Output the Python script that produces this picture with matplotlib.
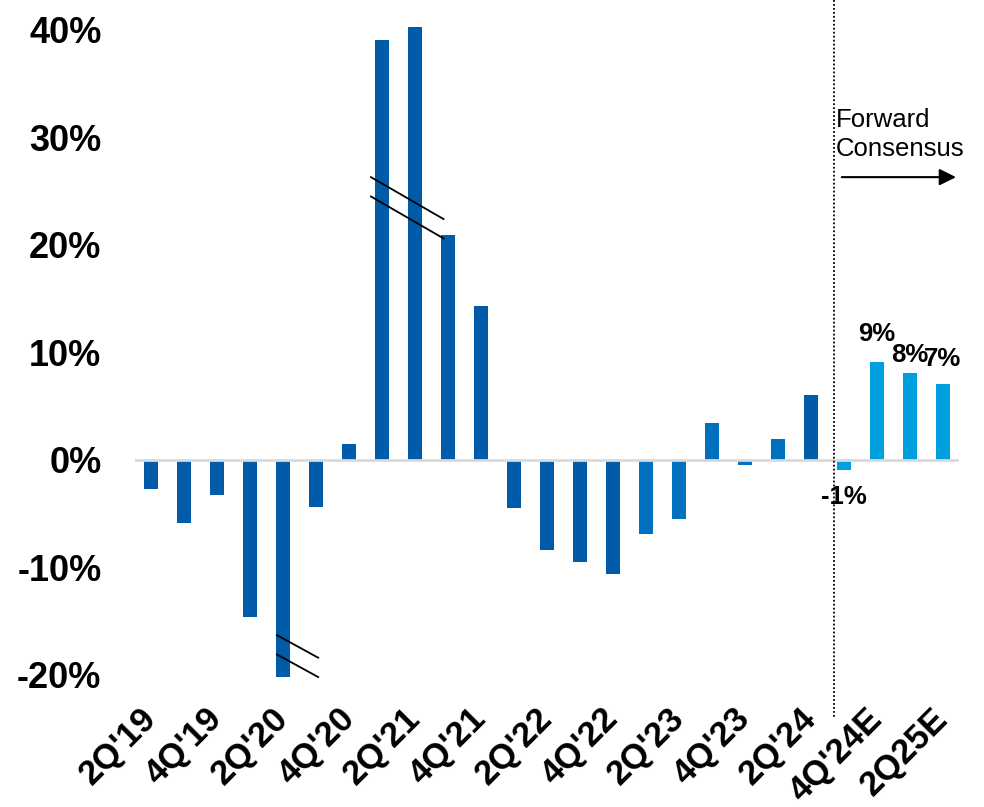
import numpy as np
import matplotlib.pyplot as plt

plt.rcParams['font.family'] = ['Liberation Sans', 'DejaVu Sans']

# quarterly y/y growth, 2Q19 .. 2Q25E (last four are consensus estimates)
quarters = ["2Q'19", "3Q'19", "4Q'19", "1Q'20", "2Q'20", "3Q'20", "4Q'20",
            "1Q'21", "2Q'21", "3Q'21", "4Q'21", "1Q'22", "2Q'22", "3Q'22",
            "4Q'22", "1Q'23", "2Q'23", "3Q'23", "4Q'23", "1Q'24", "2Q'24",
            "3Q'24E", "4Q'24E", "1Q25E", "2Q25E"]
growth = [-2.7, -5.9, -3.3, -14.6, -20.2, -4.4, 1.5,
          39.1, 40.3, 20.9, 14.3, -4.5, -8.4, -9.5,
          -10.6, -6.9, -5.5, 3.4, -0.5, 1.9, 6.0,
          -0.9, 9.1, 8.1, 7.1]
# 0 = reported, 1 = recent reported, 2 = forward consensus
group = [0, 0, 0, 0, 0, 0, 0,
         0, 0, 0, 0, 0, 0, 0,
         0, 1, 1, 1, 1, 1, 0,
         2, 2, 2, 2]
shown_labels = {21: "-1%", 22: "9%", 23: "8%", 24: "7%"}
label_offset = {21: -27, 22: 20, 23: 13, 24: 18}

colors = ['#005BA8', '#0070C0', '#00A0E0']

fig = plt.figure(figsize=(9.84, 8.07), dpi=100)
ax = fig.add_axes([0.137, 0.157, 0.838, 0.826])

x = np.arange(len(quarters))
ax.bar(x, growth, width=0.42, color=[colors[g] for g in group], zorder=2)
ax.axhline(0, color='#d9d9d9', lw=2, zorder=3)

ax.set_xlim(-0.5, 24.5)
ax.set_ylim(-20.5, 41.5)

ax.set_xticks(x[::2])
ax.set_xticklabels(quarters[::2], rotation=45, ha='right', va='center',
                   rotation_mode='anchor', fontsize=25, fontweight='bold')
yt = [-20, -10, 0, 10, 20, 30, 40]
ax.set_yticks(yt)
ax.set_yticklabels([f"{v}%" for v in yt], fontsize=26, fontweight='bold')
ax.tick_params(axis='both', length=0)
ax.tick_params(axis='x', pad=24)
ax.tick_params(axis='y', pad=24)
for s in ax.spines.values():
    s.set_visible(False)

# data labels on the forecast bars
for i, txt in shown_labels.items():
    ax.annotate(txt, (x[i], growth[i] if growth[i] > 0 else 0),
                xytext=(0, label_offset[i]), textcoords='offset points',
                ha='center', va='center', fontsize=18.5, fontweight='bold')

# axis-break marks
for dy in (0, -1.8):
    ax.plot([3.81, 5.06], [-16.3 + dy, -18.4 + dy], color='black', lw=1.3, zorder=4)
    ax.plot([6.66, 8.86], [26.3 + dy, 22.4 + dy], color='black', lw=1.3, zorder=4)

# forward consensus divider
ax.plot([20.7, 20.7], [42.8, -23.9], color='black', lw=1.3,
        linestyle=(0, (1, 1.2)), clip_on=False, zorder=4)
ax.text(20.76, 32.7, "Forward\nConsensus", fontsize=18.5, ha='left', va='top',
        linespacing=1.22)
ax.annotate("", xy=(24.48, 26.3), xytext=(20.85, 26.3),
            arrowprops=dict(arrowstyle='-|>', color='black', lw=1.5,
                            mutation_scale=25),
            annotation_clip=False)

fig.savefig("out.png", dpi=100)
